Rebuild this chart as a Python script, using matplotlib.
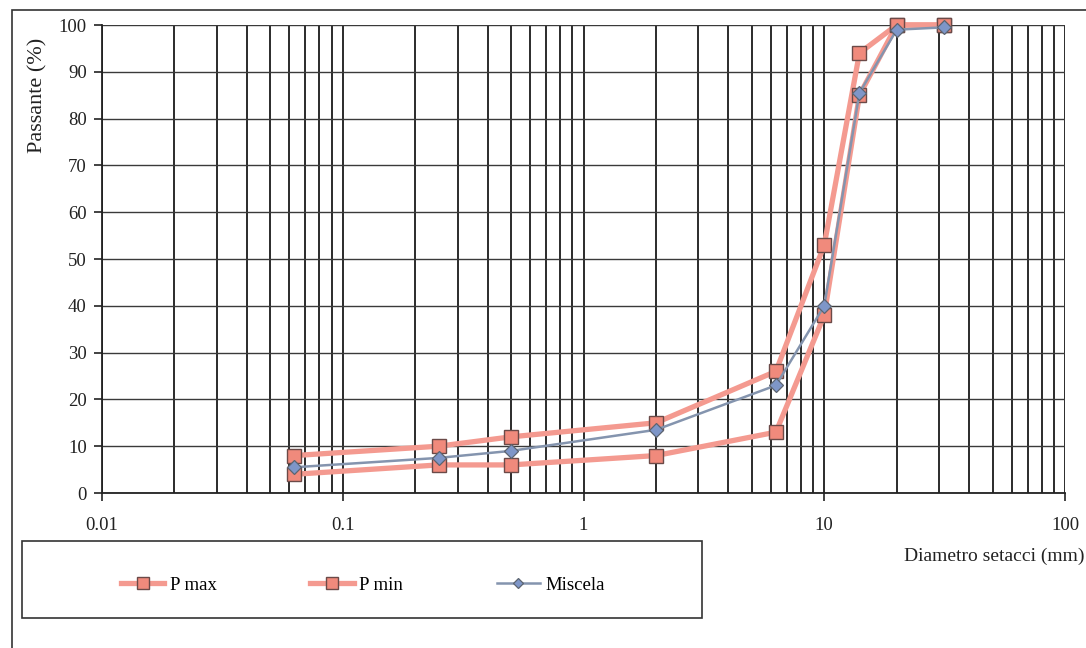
import matplotlib
matplotlib.use('Agg')
import matplotlib.pyplot as plt
from matplotlib.patches import Rectangle
from matplotlib.ticker import LogLocator, FixedLocator, NullFormatter

plt.rcParams['font.family'] = ['Liberation Serif', 'DejaVu Serif']

# sieve sizes (mm) and passing (%)
diametri = [0.063, 0.25, 0.5, 2, 6.3, 10, 14, 20, 31.5]
p_max = [8, 10, 12, 15, 26, 53, 94, 100, 100]
p_min = [4, 6, 6, 8, 13, 38, 85, 100, 100]
miscela = [5.5, 7.5, 9, 13.5, 23, 40, 85.5, 99, 99.5]

W, H = 1086, 648
fig = plt.figure(figsize=(W / 100, H / 100), dpi=100)
ax = fig.add_axes([102 / W, 1 - 493 / H, (1065 - 102) / W, (493 - 25) / H])

salmone = '#F49A90'
bordo = '#6B4A48'
ax.plot(diametri, p_max, '-s', color=salmone, lw=3.8, markersize=10,
        markerfacecolor='#F08A7C', markeredgecolor=bordo, markeredgewidth=1.0,
        label='P max', zorder=3, clip_on=False)
ax.plot(diametri, p_min, '-s', color=salmone, lw=3.8, markersize=10,
        markerfacecolor='#F08A7C', markeredgecolor=bordo, markeredgewidth=1.0,
        label='P min', zorder=3, clip_on=False)
ax.plot(diametri, miscela, '-D', color='#8494AE', lw=1.8, markersize=7,
        markerfacecolor='#7E96C8', markeredgecolor='#5C6470', markeredgewidth=0.9,
        label='Miscela', zorder=4, clip_on=False)

ax.set_xscale('log')
ax.set_xlim(0.01, 100)
ax.set_ylim(0, 100)
ax.set_yticks(range(0, 101, 10))
ax.xaxis.set_major_locator(FixedLocator([0.01, 0.1, 1, 10, 100]))
ax.set_xticklabels(['0.01', '0.1', '1', '10', '100'])
ax.xaxis.set_minor_locator(LogLocator(base=10, subs=range(2, 10)))
ax.xaxis.set_minor_formatter(NullFormatter())

ax.grid(True, which='major', axis='y', color='#3a3a3a', lw=1.0)
ax.grid(True, which='both', axis='x', color='#1a1a1a', lw=1.3)
ax.set_axisbelow(True)

for s in ['top', 'right']:
    ax.spines[s].set_visible(False)
for s in ['left', 'bottom']:
    ax.spines[s].set_color('#222222')
    ax.spines[s].set_linewidth(1.3)

ax.tick_params(axis='both', which='major', direction='out', length=6, width=1.2,
               colors='#222222', labelsize=13.5)
ax.tick_params(axis='x', which='major', pad=11)
ax.tick_params(axis='y', which='major', pad=5)
ax.tick_params(axis='x', which='minor', length=0)

fig.text(38 / W, 1 - 95 / H, 'Passante (%)', rotation=90, ha='center', va='center',
         fontsize=16, color='#222222')
fig.text(1085 / W, 1 - 556 / H, 'Diametro setacci (mm)', ha='right', va='center',
         fontsize=14, color='#222222')

# outer chart frame and legend box
fig.patches.append(Rectangle((12 / W, -0.1), 1.2, 1 - 10 / H + 0.1,
                             transform=fig.transFigure, fill=False,
                             edgecolor='#333333', lw=1.2))
fig.patches.append(Rectangle((22 / W, 1 - 618 / H), 680 / W, 77 / H,
                             transform=fig.transFigure, fill=False,
                             edgecolor='#333333', lw=1.2))

ax.legend(loc='center', bbox_to_anchor=(363 / W, 1 - 585 / H),
          bbox_transform=fig.transFigure, ncol=3, frameon=False,
          fontsize=13.5, handlelength=2.3, handletextpad=0.3, columnspacing=5.0,
          markerscale=0.8)

fig.savefig('out.png', dpi=100)
